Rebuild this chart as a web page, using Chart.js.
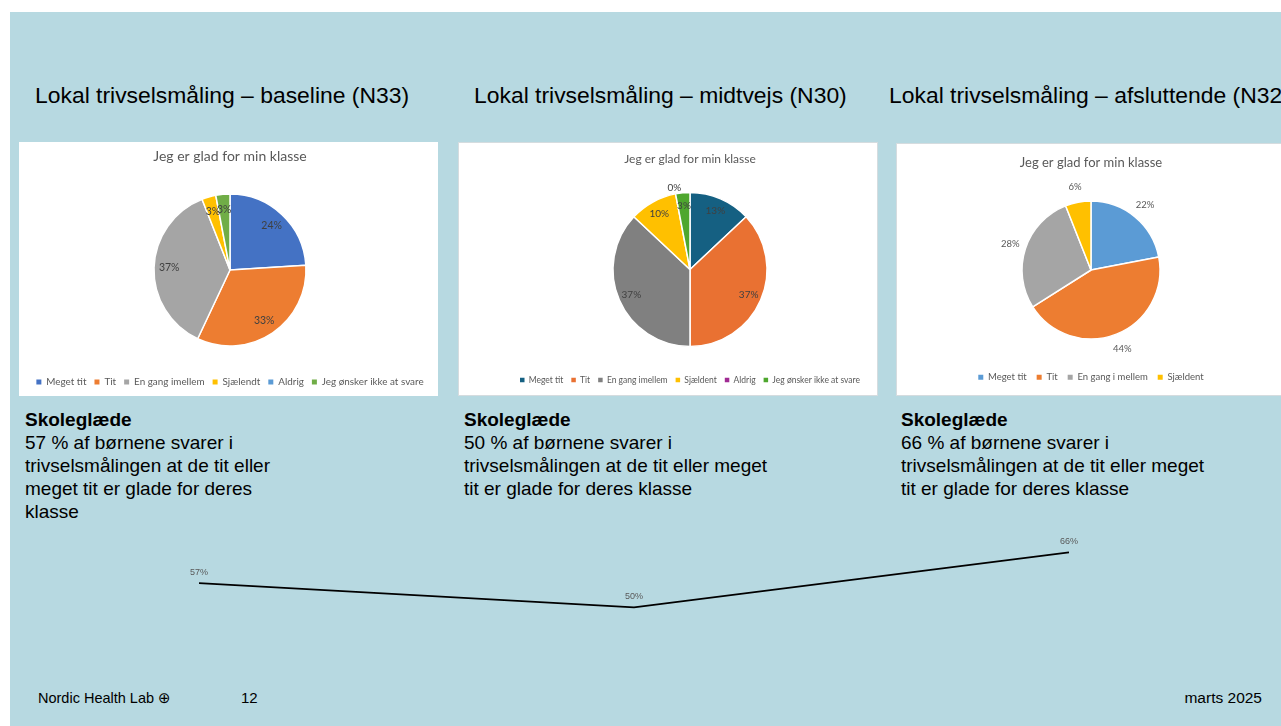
<!DOCTYPE html>
<html lang="da">
<head>
<meta charset="utf-8">
<title>Skoleglæde – lokal trivselsmåling</title>
<script src="https://cdn.jsdelivr.net/npm/chart.js"></script>
<style>
  html, body { margin: 0; padding: 0; }
  body { width: 1281px; height: 726px; overflow: hidden; background: #fff; position: relative;
         font-family: "Liberation Sans", Arial, sans-serif; color: #000; }
  .slide { position: absolute; left: 10px; top: 12px; width: 1271px; height: 714px; background: #b7d9e1; }
  .abs { position: absolute; white-space: nowrap; }
  .head { font-size: 22.9px; line-height: 26px; top: 81.5px; }
  .card { position: absolute; background: #fff; }
  .body { font-size: 19px; line-height: 23px; top: 408px; }
  .foot { line-height: 20px; top: 688px; }
  .wrap { position: absolute; }
</style>
</head>
<body>
<div class="slide"></div>

<div class="abs head" style="left:35px">Lokal trivselsmåling – baseline (N33)</div>
<div class="abs head" style="left:474px">Lokal trivselsmåling – midtvejs (N30)</div>
<div class="abs head" style="left:889px">Lokal trivselsmåling – afsluttende (N32)</div>

<div class="card" style="left:19px;top:142px;width:419px;height:254px"></div>
<div class="card" style="left:459px;top:143px;width:418px;height:252px;box-shadow:0 0 0 1px #d5dcdf"></div>
<div class="card" style="left:897px;top:144px;width:384px;height:251px;box-shadow:0 0 0 1px #d5dcdf"></div>

<div class="wrap" id="w1"><canvas id="pie1"></canvas></div>
<div class="wrap" id="w2"><canvas id="pie2"></canvas></div>
<div class="wrap" id="w3"><canvas id="pie3"></canvas></div>

<div class="abs body" style="left:25px"><b>Skoleglæde</b><br>57 % af børnene svarer i<br>trivselsmålingen at de tit eller<br>meget tit er glade for deres<br>klasse</div>
<div class="abs body" style="left:464px"><b>Skoleglæde</b><br>50 % af børnene svarer i<br>trivselsmålingen at de tit eller meget<br>tit er glade for deres klasse</div>
<div class="abs body" style="left:901px"><b>Skoleglæde</b><br>66 % af børnene svarer i<br>trivselsmålingen at de tit eller meget<br>tit er glade for deres klasse</div>

<div class="wrap" style="left:179px;top:520px;width:910px;height:130px"><canvas id="trend"></canvas></div>

<div class="abs foot" style="left:38px;font-size:14.5px">Nordic Health Lab <span style="font-family:'DejaVu Sans';font-size:15px">⊕</span></div>
<div class="abs foot" style="left:241px;font-size:15px">12</div>
<div class="abs foot" style="right:19px;font-size:15.5px">marts 2025</div>

<script>
// data
const categories1 = ['Meget tit', 'Tit', 'En gang imellem', 'Sjælendt', 'Aldrig', 'Jeg ønsker ikke at svare'];
const values1 = [24, 33, 37, 3, 0, 3];
const categories2 = ['Meget tit', 'Tit', 'En gang imellem', 'Sjældent', 'Aldrig', 'Jeg ønsker ikke at svare'];
const values2 = [13, 37, 37, 10, 0, 3];
const categories3 = ['Meget tit', 'Tit', 'En gang i mellem', 'Sjældent'];
const values3 = [22, 44, 28, 6];
const trendLabels = ['baseline', 'midtvejs', 'afsluttende'];
const trendValues = [57, 50, 66];

// colours
const colors1 = ['#4472C4', '#ED7D31', '#A5A5A5', '#FFC000', '#5B9BD5', '#70AD47'];
const colors2 = ['#156082', '#E97132', '#808080', '#FFC000', '#A02B93', '#4EA72E'];
const colors3 = ['#5B9BD5', '#ED7D31', '#A5A5A5', '#FFC000'];

// percent labels on the slices
const sliceLabels = {
  id: 'sliceLabels',
  afterDatasetsDraw(chart, args, opts) {
    const ctx = chart.ctx;
    const ds = chart.data.datasets[0];
    ctx.save();
    ctx.font = opts.size + 'px Lato';
    ctx.fillStyle = opts.color;
    ctx.textAlign = 'center';
    ctx.textBaseline = 'middle';
    chart.getDatasetMeta(0).data.forEach((arc, i) => {
      const v = ds.data[i];
      if (v === 0 && !opts.showZero) return;
      const p = arc.getProps(['x', 'y', 'startAngle', 'endAngle', 'outerRadius'], true);
      const mid = (p.startAngle + p.endAngle) / 2;
      const f = v === 0 ? opts.zeroFactor : opts.factor;
      ctx.fillText(v + '%', p.x + Math.cos(mid) * p.outerRadius * f, p.y + Math.sin(mid) * p.outerRadius * f);
    });
    ctx.restore();
  }
};

// labels above the line points
const pointLabels = {
  id: 'pointLabels',
  afterDatasetsDraw(chart, args, opts) {
    const ctx = chart.ctx;
    const ds = chart.data.datasets[0];
    ctx.save();
    ctx.font = opts.size + 'px "Liberation Sans"';
    ctx.fillStyle = opts.color;
    ctx.textAlign = 'center';
    ctx.textBaseline = 'middle';
    chart.getDatasetMeta(0).data.forEach((pt, i) => {
      ctx.fillText(ds.data[i] + '%', pt.x, pt.y - opts.offset);
    });
    ctx.restore();
  }
};

function legendItems(chart) {
  const base = (Chart.overrides.pie || Chart.overrides.doughnut).plugins.legend.labels.generateLabels;
  const items = base(chart);
  items.forEach(it => { it.lineWidth = 0; it.strokeStyle = 'rgba(0,0,0,0)'; });
  return items;
}

function makePie(wrapId, canvasId, labels, values, colors, s) {
  const lh = s.titleSize * 1.2;
  const itemH = Math.max(s.legendSize, s.box);
  const legendTop = s.legendY - s.top - s.legendPad - itemH / 2;
  const titleBottom = 2 * (s.cy - s.top) - legendTop;
  const titleTop = s.titleY - s.top - lh / 2;
  const rawH = s.legendY - s.top + itemH / 2 + 10;
  const h = Math.ceil(rawH);
  const w = document.getElementById(wrapId);
  w.style.left = (s.cx - s.width / 2) + 'px';
  w.style.top = s.top + 'px';
  w.style.width = s.width + 'px';
  w.style.height = h + 'px';

  new Chart(document.getElementById(canvasId), {
    type: 'pie',
    data: {
      labels: labels,
      datasets: [{
        data: values,
        backgroundColor: colors,
        borderColor: '#ffffff',
        borderWidth: 1.5,
        radius: s.radius
      }]
    },
    options: {
      animation: false,
      responsive: true,
      maintainAspectRatio: false,
      layout: { padding: { top: 0, bottom: h - rawH, left: 0, right: 0 } },
      plugins: {
        title: {
          display: true,
          text: 'Jeg er glad for min klasse',
          color: '#595959',
          font: { family: 'Lato', size: s.titleSize, weight: 'normal', lineHeight: 1.2 },
          padding: { top: titleTop, bottom: titleBottom - titleTop - lh }
        },
        legend: {
          position: 'bottom',
          labels: {
            color: '#595959',
            font: { family: 'Lato', size: s.legendSize },
            boxWidth: s.box,
            boxHeight: s.box,
            padding: s.legendPad,
            generateLabels: legendItems
          }
        },
        tooltip: { enabled: false },
        sliceLabels: s.labels
      }
    },
    plugins: [sliceLabels]
  });
}

makePie('w1', 'pie1', categories1, values1, colors1, {
  cx: 230, top: 142, width: 480, titleY: 156.7, titleSize: 14, cy: 270, radius: 76,
  legendY: 382, legendSize: 9.9, box: 5, legendPad: 8,
  labels: { size: 10.5, color: '#404040', factor: 0.8, showZero: false }
});
makePie('w2', 'pie2', categories2, values2, colors2, {
  cx: 690, top: 142, width: 440, titleY: 159, titleSize: 12, cy: 269.5, radius: 77,
  legendY: 380, legendSize: 8.5, box: 4.5, legendPad: 8,
  labels: { size: 10, color: '#404040', factor: 0.83, showZero: true, zeroFactor: 1.08 }
});
makePie('w3', 'pie3', categories3, values3, colors3, {
  cx: 1091, top: 142, width: 380, titleY: 162.5, titleSize: 13, cy: 270, radius: 69,
  legendY: 377.3, legendSize: 9.5, box: 5, legendPad: 10,
  labels: { size: 9.5, color: '#595959', factor: 1.23, showZero: false }
});

new Chart(document.getElementById('trend'), {
  type: 'line',
  data: {
    labels: trendLabels,
    datasets: [{
      data: trendValues,
      borderColor: '#000000',
      borderWidth: 1.75,
      pointRadius: 0,
      tension: 0,
      fill: false
    }]
  },
  options: {
    animation: false,
    responsive: true,
    maintainAspectRatio: false,
    layout: { padding: { left: 20, right: 20, top: 18.5, bottom: 8.3 } },
    scales: {
      x: { display: false },
      y: { display: false, min: 40, max: 70 }
    },
    plugins: {
      legend: { display: false },
      tooltip: { enabled: false },
      pointLabels: { size: 9, color: '#595959', offset: 10.5 }
    }
  },
  plugins: [pointLabels]
});
</script>
</body>
</html>
